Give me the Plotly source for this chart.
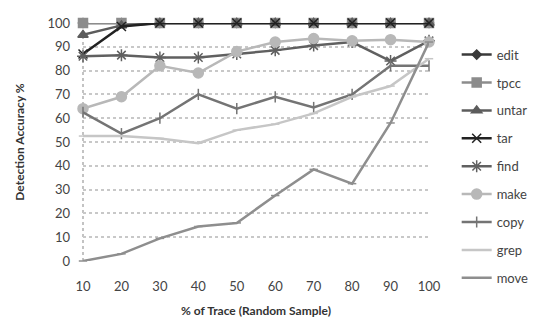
import plotly.graph_objects as go

x_vals = [10, 20, 30, 40, 50, 60, 70, 80, 90, 100]

edit = [100, 100, 100, 100, 100, 100, 100, 100, 100, 100]
tpcc = [100, 100, 100, 100, 100, 100, 100, 100, 100, 100]
untar = [95, 99, 100, 100, 100, 100, 100, 100, 100, 100]
tar = [87, 98.5, 100, 100, 100, 100, 100, 100, 100, 100]
find = [86, 86.5, 85.5, 85.5, 87, 88.5, 90.5, 92, 84, 92.5]
make = [64, 69, 82, 79, 88, 92, 93.5, 92.5, 93, 92]
copy = [62.5, 53.5, 60, 70, 64, 69, 64.5, 70, 82, 82]
grep = [52.5, 52.5, 51.5, 49.5, 55, 57.5, 62, 69, 73.5, 85]
move = [0, 3, 9.5, 14.5, 16, 27.5, 38.5, 32.5, 58, 92]

series = [
    ("edit", edit, "#3a3a3a", "diamond", 7, 2.5),
    ("tpcc", tpcc, "#8c8c8c", "square", 9, 2.5),
    ("untar", untar, "#5c5c5c", "triangle-up", 9, 2.5),
    ("tar", tar, "#222222", "x-thin-open", 9, 2.5),
    ("find", find, "#606060", "asterisk-open", 10, 2.5),
    ("make", make, "#b8b8b8", "circle", 10, 2.5),
    ("copy", copy, "#747474", "line-ns-open", 8, 2.5),
    ("grep", grep, "#c6c6c6", "line-ew-open", 6, 2.5),
    ("move", move, "#8e8e8e", "line-ew-open", 6, 2.5),
]

fig = go.Figure()
for i, (name, ys, color, sym, size, lw) in enumerate(series):
    fig.add_trace(go.Scatter(
        x=x_vals, y=ys, name=name, mode="lines+markers",
        line=dict(color=color, width=lw),
        marker=dict(symbol=sym, size=size, color=color,
                    line=dict(color=color, width=1.5)),
        cliponaxis=False, legendgroup=f"g{i}",
    ))

fig.update_layout(
    width=538, height=320,
    margin=dict(l=75, r=106, t=15, b=67),
    paper_bgcolor="white", plot_bgcolor="white",
    font=dict(family="Lato, Open Sans, sans-serif", color="#444444", size=13),
    showlegend=True,
    legend=dict(x=1.08, y=0.93, xanchor="left", yanchor="top",
                font=dict(size=13, color="#444444"),
                tracegroupgap=8, itemwidth=30, maxheight=320,
                bgcolor="rgba(0,0,0,0)"),
    xaxis=dict(range=[10, 100], tickvals=x_vals, showgrid=False,
               zeroline=False, showline=False, ticks="",
               ticklabelstandoff=16, automargin=False,
               tickfont=dict(size=13, color="#444444"),
               title=dict(text="<b>% of Trace (Random Sample)</b>",
                          font=dict(size=12, color="#333333"), standoff=13)),
    yaxis=dict(range=[0, 100], dtick=10, showgrid=True,
               gridcolor="#c8c8c8", griddash="dot", gridwidth=1.5,
               zeroline=False, showline=False, ticks="",
               ticklabelstandoff=12, automargin=False,
               tickfont=dict(size=13, color="#444444"),
               title=dict(text="<b>Detection Accuracy %</b>",
                          font=dict(size=12, color="#333333"), standoff=20)),
)
fig.add_shape(type="line", xref="paper", yref="paper", x0=0, x1=0, y0=0, y1=1,
              line=dict(color="#b0b0b0", width=1.5, dash="dot"), layer="below")

fig.write_html("out.html")
